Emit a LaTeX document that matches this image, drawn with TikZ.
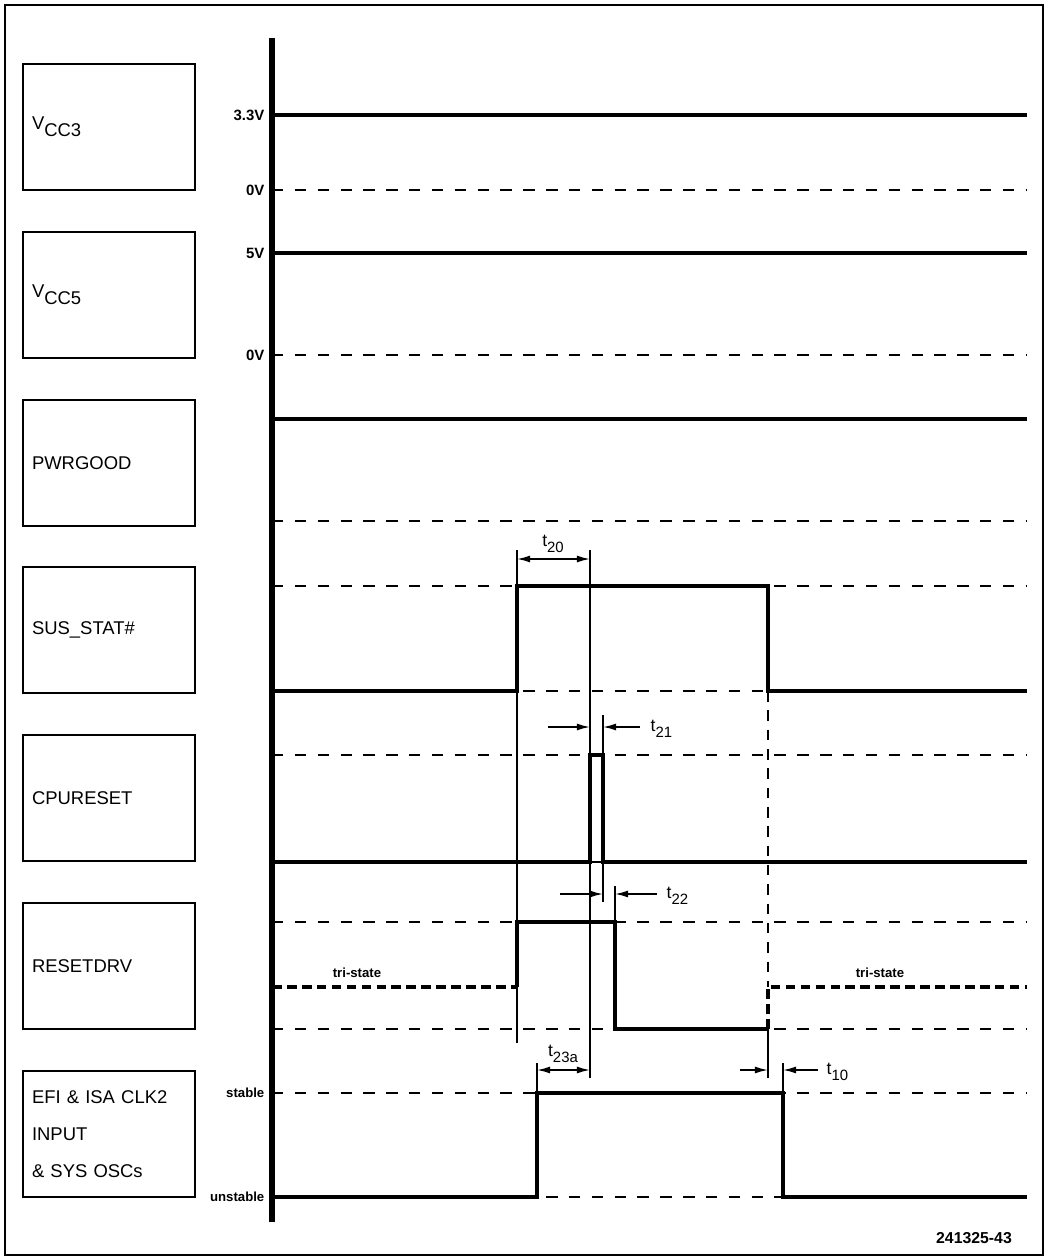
\documentclass[tikz,border=0pt]{standalone}
\usepackage{fontspec}
\setmainfont{Liberation Sans}
\usetikzlibrary{arrows.meta, positioning}
\tikzset{
  every picture/.style={line width=0.8pt},
  sigbox/.style={draw, line width=1.4pt, minimum width=3.44cm, minimum height=2.52cm, text width=3.08cm, align=left, inner xsep=0.18cm, font=\fontsize{10.5}{21}\selectfont},
  lvl/.style={anchor=east, inner sep=0pt, font=\bfseries\fontsize{7.5}{8}\selectfont},
  sig/.style={line width=2.5pt, line join=miter},
  ref/.style={line width=1.1pt, dash pattern=on 6.5pt off 6.5pt},
  tri/.style={line width=2.4pt, dash pattern=on 5.5pt off 3pt},
  guide/.style={line width=0.8pt},
  guidedash/.style={line width=0.9pt, dash pattern=on 6pt off 5pt},
  dim/.style={-{Latex[length=7.5pt,width=4pt]}, line width=0.9pt},
  dimboth/.style={{Latex[length=7.5pt,width=4pt]}-{Latex[length=7.5pt,width=4pt]}, line width=0.9pt},
  tlabel/.style={inner sep=0pt, font=\fontsize{10}{10}\selectfont},
  note/.style={inner sep=0pt, font=\bfseries\fontsize{7.5}{8}\selectfont},
}

\begin{document}
\begin{tikzpicture}[x=0.02cm, y=-0.02cm]
  \useasboundingbox (0,0) rectangle (1046,1258);
  \draw[line width=1.1pt] (5,5) rectangle (1043,1255);

  % signal names
  \node[sigbox] (vccthree) at (109,127) {V\raisebox{-0.7ex}{CC3}};
  \node[sigbox] (vccfive) at (109,295) {V\raisebox{-0.7ex}{CC5}};
  \node[sigbox] (pwrgood) at (109,463) {PWRGOOD};
  \node[sigbox] (susstat) at (109,630) {SUS\_STAT\#};
  \node[sigbox] (cpureset) at (109,798) {CPURESET};
  \node[sigbox] (resetdrv) at (109,966) {RESETDRV};
  \node[sigbox] (clkin) at (109,1134) {EFI \& ISA CLK2\\INPUT\\\& SYS OSCs};

  % level axis
  \coordinate (axtop) at (272,38);
  \coordinate (axbot) at (272,1222);
  \draw[line width=3.2pt] (axtop) -- (axbot);
  \node[lvl, font=\bfseries\fontsize{8.5}{9}\selectfont] (lvthree) at (265,115) {3.3V};
  \node[lvl, font=\bfseries\fontsize{8.5}{9}\selectfont] (lvzeroa) at (265,190) {0V};
  \node[lvl, font=\bfseries\fontsize{8.5}{9}\selectfont] (lvfive) at (265,253) {5V};
  \node[lvl, font=\bfseries\fontsize{8.5}{9}\selectfont] (lvzerob) at (265,355) {0V};
  \node[lvl] (lvstable) at (265,1093) {stable};
  \node[lvl] (lvunstable) at (265,1197) {unstable};

  % reference levels
  \foreach \yy in {190,355,521,586,691,755,862,922,1029,1093,1197}
    \draw[ref] (272,\yy) -- (1027,\yy);

  % waveforms
  \draw[sig] (272,115) -- (1027,115);
  \draw[sig] (272,253) -- (1027,253);
  \draw[sig] (272,419) -- (1027,419);
  \draw[sig] (272,691) -- (517,691) -- (517,586) -- (768,586) -- (768,691) -- (1027,691);
  \draw[sig] (272,862) -- (590,862) -- (590,755) -- (603,755) -- (603,862) -- (1027,862);
  \draw[tri] (272,987) -- (517,987);
  \draw[sig] (517,987) -- (517,922) -- (615,922) -- (615,1029) -- (768,1029);
  \draw[tri] (768,1029) -- (768,987) -- (1027,987);
  \draw[sig] (272,1197) -- (537,1197) -- (537,1093) -- (783,1093) -- (783,1197) -- (1027,1197);
  \node[note] (trileft) at (357,973) {tri-state};
  \node[note] (triright) at (880,973) {tri-state};

  % timing guides
  \draw[guide] (517,550) -- (517,1043);
  \draw[guide] (590,550) -- (590,1078);
  \draw[guide] (603,715) -- (603,902);
  \draw[guide] (615,886) -- (615,922);
  \draw[guidedash] (768,691) -- (768,987);
  \draw[guide] (768,1029) -- (768,1078);
  \draw[guide] (537,1063) -- (537,1093);
  \draw[guide] (783,1063) -- (783,1093);

  % timing parameters
  \coordinate (ttwentya) at (517,559);
  \coordinate (ttwentyb) at (590,559);
  \draw[dimboth] (ttwentya) -- (ttwentyb);
  \node[tlabel] (ttwenty) at (553,544) {t\raisebox{-0.6ex}{\fontsize{8.5}{9}\selectfont 20}};

  \coordinate (toneonea) at (548,727);
  \coordinate (toneoneb) at (590,727);
  \coordinate (toneonec) at (640,727);
  \coordinate (toneoned) at (603,727);
  \draw[dim] (toneonea) -- (toneoneb);
  \draw[dim] (toneonec) -- (toneoned);
  \node[tlabel, anchor=west] (toneone) at (650,729) {t\raisebox{-0.6ex}{\fontsize{8.5}{9}\selectfont 21}};

  \coordinate (ttwotwoa) at (560,894);
  \coordinate (ttwotwob) at (603,894);
  \coordinate (ttwotwoc) at (657,894);
  \coordinate (ttwotwod) at (615,894);
  \draw[dim] (ttwotwoa) -- (ttwotwob);
  \draw[dim] (ttwotwoc) -- (ttwotwod);
  \node[tlabel, anchor=west] (ttwotwo) at (666,896) {t\raisebox{-0.6ex}{\fontsize{8.5}{9}\selectfont 22}};

  \coordinate (tthreea) at (537,1070);
  \coordinate (tthreeb) at (590,1070);
  \draw[dimboth] (tthreea) -- (tthreeb);
  \node[tlabel] (tthree) at (563,1054) {t\raisebox{-0.6ex}{\fontsize{8.5}{9}\selectfont 23a}};

  \coordinate (ttena) at (740,1070);
  \coordinate (ttenb) at (768,1070);
  \coordinate (ttenc) at (818,1070);
  \coordinate (ttend) at (783,1070);
  \draw[dim] (ttena) -- (ttenb);
  \draw[dim] (ttenc) -- (ttend);
  \node[tlabel, anchor=west] (tten) at (826,1072) {t\raisebox{-0.6ex}{\fontsize{8.5}{9}\selectfont 10}};

  \node[inner sep=0pt, font=\bfseries\fontsize{9}{9}\selectfont] (figno) at (974,1238) {241325-43};
\end{tikzpicture}
\end{document}
